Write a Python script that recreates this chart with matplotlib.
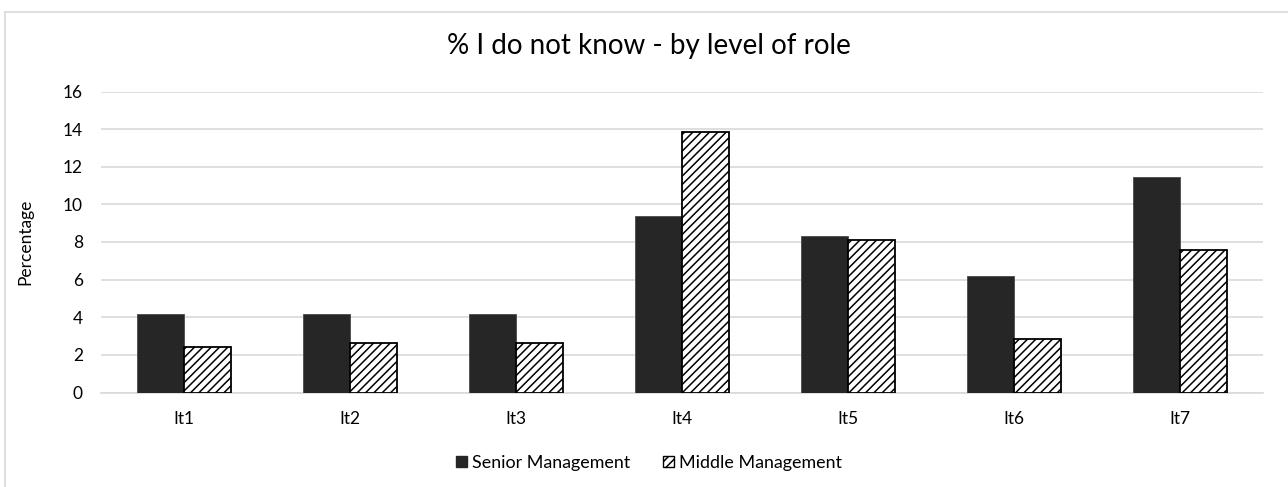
import matplotlib
matplotlib.use("Agg")
import matplotlib.pyplot as plt
import numpy as np
from matplotlib.patches import Patch
from matplotlib.lines import Line2D

plt.rcParams['font.family'] = ['Lato', 'DejaVu Sans']
plt.rcParams['hatch.linewidth'] = 1.1

categories = ["It1", "It2", "It3", "It4", "It5", "It6", "It7"]
senior = [4.17, 4.17, 4.17, 9.38, 8.33, 6.19, 11.46]
middle = [2.42, 2.63, 2.63, 13.83, 8.10, 2.86, 7.55]
series_names = ["Senior Management", "Middle Management"]
y_ticks = [0, 2, 4, 6, 8, 10, 12, 14, 16]
title = "% I do not know - by level of role"
y_label = "Percentage"

W, H = 1288, 487
fig = plt.figure(figsize=(W / 100, H / 100), dpi=100)
ax = fig.add_axes([101 / W, 1 - 392.5 / H, (1263 - 101) / W, (392.5 - 91.5) / H])

x = np.arange(len(categories))
bw = 0.283
ax.bar(x - bw / 2, senior, bw, color="#262626", edgecolor="#4a4a4a",
       linewidth=0.6, zorder=3)
ax.bar(x + bw / 2, middle, bw, color="white", edgecolor="black",
       hatch="////", linewidth=1.3, zorder=3)

ax.set_xlim(-0.5, len(categories) - 0.5)
ax.set_ylim(0, 16)
ax.set_yticks(y_ticks)
ax.set_xticks(x)
ax.set_xticklabels(categories)
ax.tick_params(axis="both", length=0, labelsize=12.5, colors="black")
ax.tick_params(axis="y", pad=13)
ax.tick_params(axis="x", pad=13)
ax.grid(axis="y", color="#d9d9d9", linewidth=1.2, zorder=0)
ax.set_axisbelow(True)
for s in ["top", "right", "left"]:
    ax.spines[s].set_visible(False)
ax.spines["bottom"].set_color("#d9d9d9")
ax.spines["bottom"].set_linewidth(1.2)

fig.text(25 / W, 1 - 242 / H, y_label, rotation=90, ha="center", va="center",
         fontsize=12.5)
fig.text(649 / W, 1 - 46 / H, title, ha="center", va="center", fontsize=20)

handles = [Patch(facecolor="#262626", edgecolor="#262626", label=series_names[0]),
           Patch(facecolor="white", edgecolor="black", hatch="////",
                 linewidth=1.0, label=series_names[1])]
fig.legend(handles=handles, loc="center", bbox_to_anchor=(649 / W, 1 - 463 / H),
           ncol=2, frameon=False, fontsize=12.9, handlelength=0.6,
           handleheight=0.6, handletextpad=0.3, columnspacing=1.8)

# chart-area border (left and top edges)
fig.add_artist(Line2D([5 / W, 5 / W], [0, 1 - 12 / H], transform=fig.transFigure,
                      color="#d9d9d9", linewidth=1.2))
fig.add_artist(Line2D([5 / W, 1], [1 - 12 / H, 1 - 12 / H], transform=fig.transFigure,
                      color="#d9d9d9", linewidth=1.2))

fig.savefig("out.png", dpi=100, facecolor="white")
